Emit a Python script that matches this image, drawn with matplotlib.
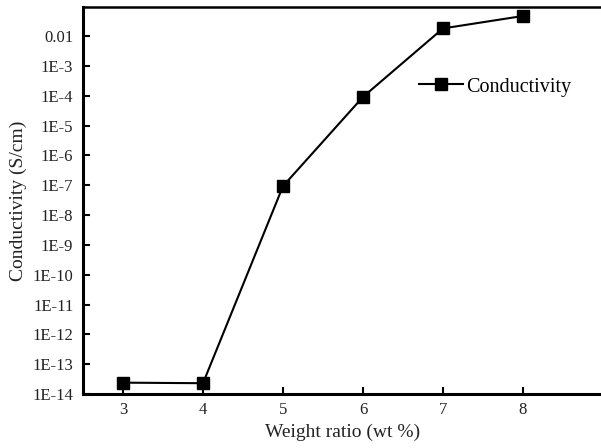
import matplotlib
matplotlib.use("Agg")
import matplotlib.pyplot as plt
from matplotlib import ticker

# dati
weight_ratio = [3, 4, 5, 6, 7, 8]
conductivity = [2.4e-14, 2.3e-14, 9.3e-8, 9.1e-5, 1.8e-2, 4.7e-2]
ytick_values = [10.0 ** e for e in range(-14, -1)]
ytick_labels = ["1E-%d" % (-e) for e in range(-14, -2)] + ["0.01"]

plt.rcParams['font.family'] = ['Liberation Serif', 'DejaVu Serif']

fig = plt.figure(figsize=(6.01, 4.48), dpi=100)
ax = fig.add_axes([83 / 601, 54 / 448, 520 / 601, 387 / 448])

ax.plot(weight_ratio, conductivity, color='black', linewidth=1.5,
        marker='s', markersize=8, label='Conductivity')

ax.set_yscale('log')
ax.set_xlim(2.5, 9.0)
ax.set_ylim(1e-14, 0.094)
ax.set_yticks(ytick_values)
ax.set_yticklabels(ytick_labels)
ax.yaxis.set_minor_locator(ticker.NullLocator())
ax.set_xticks(weight_ratio)

ax.spines['right'].set_visible(False)
for s in ['left', 'bottom']:
    ax.spines[s].set_linewidth(2.2)
ax.spines['top'].set_linewidth(1.8)
ax.tick_params(direction='in', length=5, width=1.5, labelsize=12, labelcolor='#222222')
ax.tick_params(axis='y', pad=7)
ax.tick_params(axis='x', pad=6)

ax.set_xlabel('Weight ratio (wt %)', fontsize=14, labelpad=4, color='#222222')
ax.set_ylabel('Conductivity (S/cm)', fontsize=14, labelpad=4, color='#222222')

ax.legend(loc='center left', bbox_to_anchor=(409 / 601, 1 - 87 / 448),
          bbox_transform=fig.transFigure, frameon=False, fontsize=14.5,
          handlelength=2.2, handletextpad=0.15, borderpad=0)

fig.savefig('out.png', dpi=100)
